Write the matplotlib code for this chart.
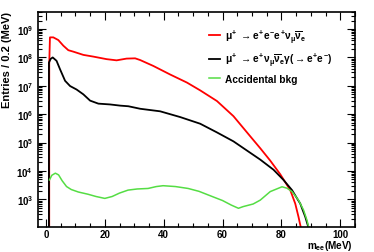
import numpy as np
import matplotlib
matplotlib.use("Agg")
import matplotlib.pyplot as plt
from matplotlib.ticker import MultipleLocator, LogLocator, FixedLocator, FuncFormatter, NullFormatter

plt.rcParams["font.family"] = ["Liberation Sans", "DejaVu Sans"]
plt.rcParams["font.weight"] = "bold"
plt.rcParams["mathtext.fontset"] = "custom"
plt.rcParams["mathtext.rm"] = "Liberation Sans:bold"
plt.rcParams["mathtext.it"] = "Liberation Sans:bold"
plt.rcParams["mathtext.bf"] = "Liberation Sans:bold"

# signal mu+ -> e+ e- e+ nu nubar (entries per 0.2 MeV)
red_x = [1.1, 1.12, 1.36, 2.5, 4.2, 5.9, 7.6, 9.3, 12.7, 16.1, 20.6, 24, 27.4, 30.3,
         32, 36.5, 42.2, 47.9, 52.4, 58.1, 63.7, 69.4, 72.8, 76.2, 79.6, 83,
         84.7, 85.8, 86.6, 86.8]
red_y = [1e-3, 6e7, 5.1e8, 5.1e8, 4.1e8, 2.6e8, 1.8e8, 1.6e8, 1.23e8, 1.07e8, 8.7e7,
         7.9e7, 9.1e7, 9.3e7, 8.1e7, 5e7, 2.5e7, 1.3e7, 6.9e6, 2.9e6, 8.5e5, 1.66e5,
         6.3e4, 2.3e4, 7.6e3, 2.1e3, 7e2, 2.4e2, 1e2, 1e-3]

# radiative decay with internal conversion
blk_x = [1.0, 1.02, 1.6, 2.3, 3.6, 4.8, 6.5, 8.2, 10.4, 12.7, 15, 17.8, 21.8, 25.2, 28,
         32, 38.8, 45.6, 52.4, 58, 63.7, 68.3, 72.8, 77.3, 80.7, 83.6, 86.4, 88.1, 89.2,
         89.4]
blk_y = [1e-3, 6.6e7, 8.9e7, 1e8, 7.6e7, 3.8e7, 1.5e7, 9.8e6, 7.4e6, 5e6, 3e6, 2.35e6,
         2.2e6, 2e6, 1.9e6, 1.55e6, 1.26e6, 7.9e5, 4.6e5, 2.3e5, 1.1e5, 5.2e4, 2.5e4,
         1.1e4, 4.8e3, 2.1e3, 7e2, 2.4e2, 1e2, 1e-3]

# accidental background
grn_x = [1.2, 2.0, 3.2, 4.3, 5.5, 7, 8.6, 11, 14.3, 17, 20, 22.5, 25, 27.9, 31, 34.7,
         37.5, 39.8, 44, 48.3, 52, 56.9, 60, 63, 65.4, 67, 70.4, 72.8, 76.2, 80.2,
         81.9, 83.6, 85.8, 87.5, 88.7, 89.3, 89.4]
grn_y = [4.8e3, 7e3, 8.3e3, 7.2e3, 4.5e3, 2.8e3, 2.2e3, 1.8e3, 1.5e3, 1.25e3, 1.07e3,
         1.25e3, 1.65e3, 2.1e3, 2.3e3, 2.4e3, 2.8e3, 3e3, 2.8e3, 2.4e3, 1.9e3, 1.2e3,
         9e2, 6.2e2, 4.8e2, 5.5e2, 6.8e2, 9.3e2, 1.86e3, 2.75e3, 2.45e3, 1.86e3, 9.3e2,
         4.2e2, 1.8e2, 1e2, 1e-3]

labels = [r"$\mu^{+}\ \rightarrow e^{+}e^{-}e^{+}\nu_{\mu}\overline{\nu}_{e}$",
          r"$\mu^{+}\ \rightarrow e^{+}\nu_{\mu}\overline{\nu}_{e}\gamma(\rightarrow e^{+}e^{-})$",
          "Accidental bkg"]
y_exponents = [3, 4, 5, 6, 7, 8, 9]

W, H = 374, 253
fig = plt.figure(figsize=(W / 100, H / 100), dpi=100)
ax = fig.add_axes([38 / W, 1 - 228 / H, (355 - 38) / W, (228 - 13) / H])

ax.plot(red_x, red_y, color="#ff0000", lw=1.3, label=labels[0])
ax.plot(blk_x, blk_y, color="black", lw=1.3, label=labels[1])
ax.plot(grn_x, grn_y, color="#55dd44", lw=1.1, label=labels[2])

ax.set_yscale("log")
ax.set_xlim(-2.7, 105)
ax.set_ylim(1.05e2, 4e9)

ax.xaxis.set_major_locator(MultipleLocator(20))
ax.xaxis.set_minor_locator(MultipleLocator(5))
ax.yaxis.set_major_locator(FixedLocator([10.0 ** e for e in y_exponents]))
ax.yaxis.set_minor_locator(LogLocator(base=10, subs=np.arange(2, 10), numticks=20))
ax.yaxis.set_minor_formatter(NullFormatter())
ax.yaxis.set_major_formatter(FuncFormatter(lambda v, p: r"$10^{%d}$" % round(np.log10(v))))

ax.tick_params(which="both", direction="in", top=True, right=True, labelsize=7, width=0.8)
ax.tick_params(which="major", length=6)
ax.tick_params(which="minor", length=3)
ax.tick_params(axis="x", pad=1.5)
for s in ax.spines.values():
    s.set_linewidth(1.2)

fig.text(7 / W, 1 - 12 / H, "Entries / 0.2 (MeV)", rotation=90, ha="center", va="top",
         fontsize=8, fontweight="bold")
fig.text(353 / W, 1 - 249.5 / H, r"m$_{\rm ee}$(MeV)", ha="right", va="baseline",
         fontsize=7.2, fontweight="bold")

ax.legend(loc="upper left", bbox_to_anchor=(202 / W, 1 - 21 / H),
          bbox_transform=fig.transFigure, frameon=False, fontsize=7.3,
          handlelength=1.1, handletextpad=0.5, labelspacing=0.55, borderpad=0.2)

fig.savefig("out.png", dpi=100)
